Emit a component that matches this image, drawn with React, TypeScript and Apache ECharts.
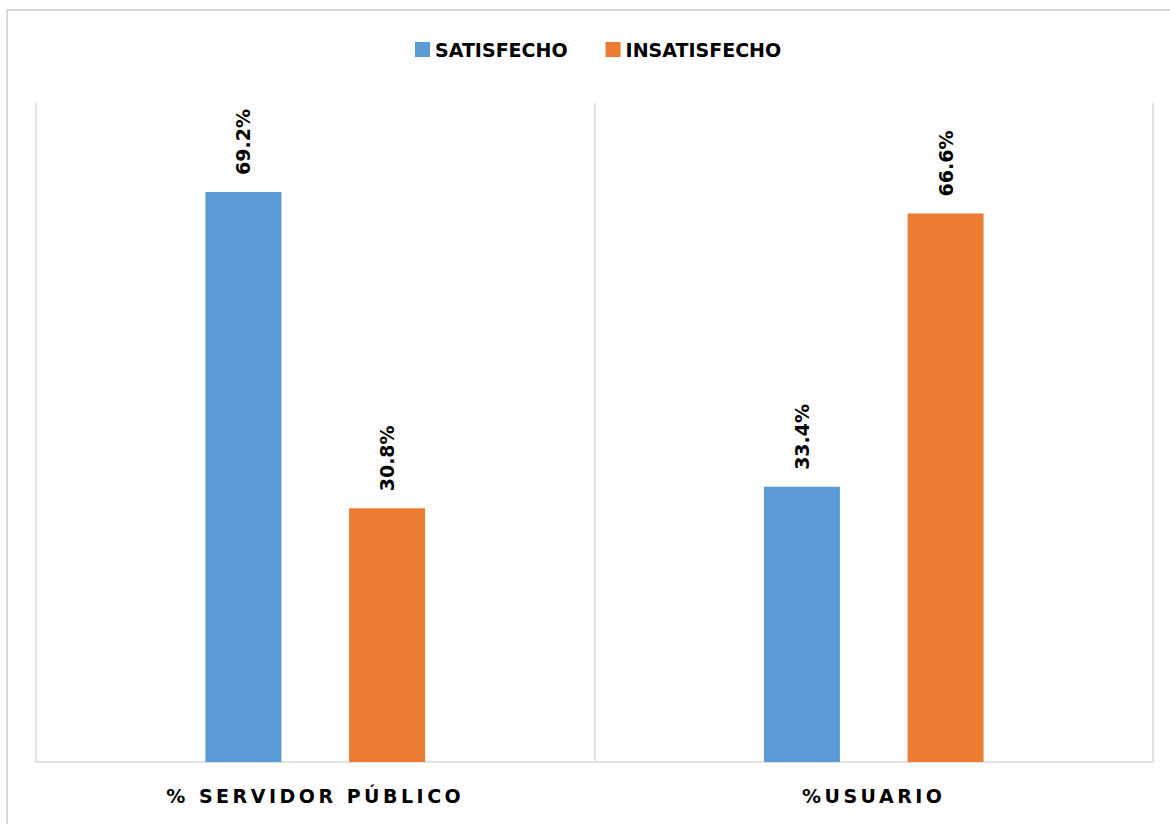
import React, { useEffect, useRef } from "react";
import * as echarts from "echarts";

const categories = ["% SERVIDOR PÚBLICO", "%USUARIO"];
const seriesNames = ["SATISFECHO", "INSATISFECHO"];
const satisfecho = [69.2, 33.4];
const insatisfecho = [30.8, 66.6];
const colors = ["#5B9BD5", "#ED7D31"];

const FONT = "DejaVu Sans";

export default function App() {
  const ref = useRef<HTMLDivElement>(null);

  useEffect(() => {
    if (!ref.current) return;
    const chart = echarts.init(ref.current, null, { renderer: "svg" });

    const dataLabel = {
      show: true,
      position: "top",
      rotate: 90,
      align: "left",
      verticalAlign: "middle",
      distance: 17,
      formatter: (p: any) => Number(p.value).toFixed(1) + "%",
      fontFamily: FONT,
      fontWeight: "bold",
      fontSize: 19,
      color: "#000",
    };

    const applySpacing = () => {
      if (!ref.current) return;
      ref.current.querySelectorAll("text").forEach((t) => {
        if (categories.includes((t.textContent || "").trim())) {
          (t as SVGTextElement).style.letterSpacing = "3.5px";
        }
      });
    };
    chart.on("finished", applySpacing);

    chart.setOption({
      animation: false,
      backgroundColor: "#ffffff",
      graphic: [
        {
          type: "rect",
          shape: { x: 7, y: 10, width: 1300, height: 900 },
          style: { fill: "none", stroke: "#d9d9d9", lineWidth: 2 },
          silent: true,
          z: -1,
        },
      ],
      legend: {
        data: seriesNames,
        left: 415,
        top: 40,
        padding: 0,
        itemWidth: 15,
        itemHeight: 15,
        itemGap: 38,
        icon: "rect",
        textStyle: {
          fontFamily: FONT,
          fontWeight: "bold",
          fontSize: 19,
          color: "#000",
        },
      },
      grid: { left: 36, right: 17, top: 103, bottom: 62, containLabel: false },
      xAxis: {
        type: "category",
        data: categories,
        boundaryGap: true,
        axisLine: { show: true, lineStyle: { color: "#d9d9d9", width: 1.5 } },
        axisTick: { show: false },
        splitLine: { show: true, lineStyle: { color: "#d9d9d9", width: 1.5 } },
        axisLabel: {
          fontFamily: FONT,
          fontWeight: "bold",
          fontSize: 19,
          color: "#000",
          margin: 24,
          lineHeight: 19,
        },
      },
      yAxis: {
        type: "value",
        min: 0,
        max: 80,
        show: false,
        splitLine: { show: false },
      },
      series: [
        {
          name: seriesNames[0],
          type: "bar",
          data: satisfecho,
          barWidth: 76,
          barGap: "89%",
          itemStyle: { color: colors[0] },
          label: dataLabel,
        },
        {
          name: seriesNames[1],
          type: "bar",
          data: insatisfecho,
          barWidth: 76,
          barGap: "89%",
          itemStyle: { color: colors[1] },
          label: dataLabel,
        },
      ],
    });
    applySpacing();
    const timer = setTimeout(applySpacing, 50);

    return () => {
      clearTimeout(timer);
      chart.dispose();
    };
  }, []);

  return (
    <div
      ref={ref}
      style={{ position: "absolute", left: 0, top: 0, width: 1170, height: 824 }}
    />
  );
}
